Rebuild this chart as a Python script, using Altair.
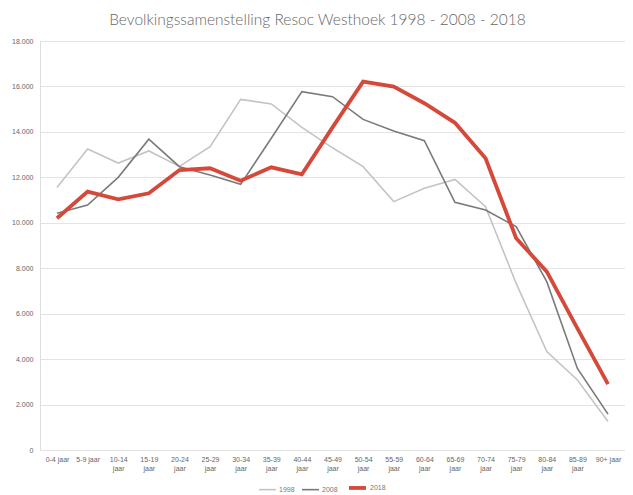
import altair as alt
import pandas as pd

categories = ["0-4 jaar", "5-9 jaar", "10-14 jaar", "15-19 jaar", "20-24 jaar", "25-29 jaar",
              "30-34 jaar", "35-39 jaar", "40-44 jaar", "45-49 jaar", "50-54 jaar", "55-59 jaar",
              "60-64 jaar", "65-69 jaar", "70-74 jaar", "75-79 jaar", "80-84 jaar", "85-89 jaar",
              "90+ jaar"]
v1998 = [11550, 13250, 12630, 13160, 12480, 13350, 15430, 15230, 14200, 13300,
         12470, 10930, 11520, 11910, 10710, 7330, 4330, 3080, 1250]
v2008 = [10420, 10780, 12000, 13680, 12470, 12100, 11690, 13720, 15770, 15550,
         14550, 14040, 13610, 10900, 10560, 9830, 7410, 3590, 1580]
v2018 = [10200, 11370, 11030, 11300, 12320, 12400, 11850, 12440, 12130, 14200,
         16210, 15990, 15260, 14400, 12840, 9320, 7850, 5350, 2900]
years = ["1998", "2008", "2018"]
colors = ["#c4c4c4", "#7a7a7a", "#d5493a"]
widths = [1.6, 1.6, 3.8]

rows = []
for yr, vals in zip(years, [v1998, v2008, v2018]):
    for c, v in zip(categories, vals):
        rows.append({"cat": c, "val": v, "year": yr})
df = pd.DataFrame(rows)

single = "indexof(['0-4 jaar','5-9 jaar','90+ jaar'], datum.label) >= 0 ? datum.label : split(datum.label, ' ')"

leg = dict(title=None, orient="none", direction="horizontal",
           legendX=218, legendY=436, symbolType="stroke",
           symbolSize=290, labelFontSize=7, labelColor="#777777",
           columnPadding=3, labelOffset=2, labelFont="Liberation Sans")

chart = alt.Chart(df).mark_line().encode(
    x=alt.X("cat:N", sort=categories, title=None,
            scale=alt.Scale(type="point", padding=0.555),
            axis=alt.Axis(labelAngle=0, labelExpr=single, labelFontSize=7, labelColor="#666666",
                          labelLineHeight=9, domain=False, ticks=False, grid=False,
                          labelPadding=5, labelFont="Liberation Sans")),
    y=alt.Y("val:Q", title=None, scale=alt.Scale(domain=[0, 18000], nice=False),
            axis=alt.Axis(values=list(range(0, 18001, 2000)),
                          labelExpr="replace(format(datum.value, ','), ',', '.')",
                          labelFontSize=7, labelColor="#666666", domain=False, ticks=False,
                          gridColor="#e3e3e3", gridWidth=1, labelPadding=7,
                          labelFont="Liberation Sans")),
    color=alt.Color("year:N", scale=alt.Scale(domain=years, range=colors),
                    legend=alt.Legend(**leg)),
    strokeWidth=alt.StrokeWidth("year:N",
                                scale=alt.Scale(type="ordinal", domain=years, range=widths),
                                legend=alt.Legend(**leg)),
).properties(
    width=585, height=409,
    title=alt.TitleParams("Bevolkingssamenstelling Resoc Westhoek 1998 - 2008 - 2018",
                          fontSize=15.5, font="Lato", fontWeight=300, color="#666666",
                          anchor="middle", dx=-15, offset=9),
    autosize=alt.AutoSizeParams(type="none"),
    padding={"left": 32, "top": 33, "right": 0, "bottom": 45},
).configure_view(stroke=None).configure(background="white")

chart.save("out.html", embed_options={"renderer": "svg", "actions": False})
